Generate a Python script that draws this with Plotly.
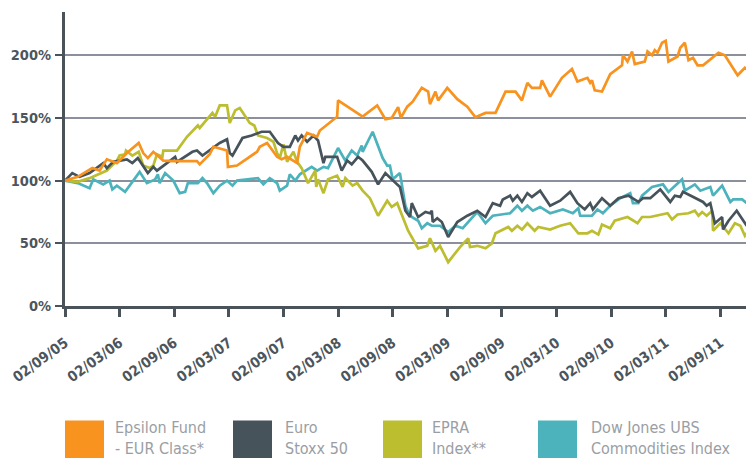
import plotly.graph_objects as go

# x = months since 02/09/2005, y = indexed performance (%)
tick_months = [0, 6, 12, 18, 24, 30, 36, 42, 48, 54, 60, 66, 72]
tick_labels = ["02/09/05", "02/03/06", "02/09/06", "02/03/07", "02/09/07", "02/03/08",
               "02/09/08", "02/03/09", "02/09/09", "02/03/10", "02/09/10", "02/03/11", "02/09/11"]
y_ticks = [0, 50, 100, 150, 200]
y_labels = ["0%", "50%", "100%", "150%", "200%"]

epsilon_t = [0, 1.4, 3.0, 3.8, 4.6, 5.7, 6.8, 8.1, 8.6, 9.1, 9.7, 10.8, 11.9, 14.5, 14.8, 15.9,
             16.3, 17.8, 17.9, 18.9, 21.1, 21.4, 22.2, 23.3, 23.8, 24.4, 25.5, 25.8, 26.6, 27.7,
             28.0, 29.9, 30.0, 32.7, 34.3, 35.2, 35.9, 36.6, 36.9, 37.6, 38.2, 39.2, 39.9, 40.1,
             40.7, 41.0, 42.0, 43.1, 44.2, 45.1, 46.2, 47.3, 48.4, 49.5, 50.2, 50.8, 51.3, 52.2,
             52.4, 53.3, 54.6, 55.7, 56.3, 57.4, 57.7, 57.9, 58.2, 59.0, 59.9, 61.2, 61.3, 61.8,
             62.3, 62.6, 63.7, 64.0, 64.5, 64.8, 65.1, 65.6, 66.0, 66.3, 67.3, 67.6, 68.1, 68.5,
             69.0, 69.5, 70.1, 71.8, 72.5, 73.9, 74.7, 75.3, 75.7]
epsilon_v = [100, 103, 110, 108, 117, 114, 122, 130, 122, 118, 123, 116, 115.5, 115.5, 113, 121,
             127, 124, 111, 112, 123, 127, 130, 119, 117, 119, 114, 127, 138, 135,
             140, 151, 164, 151, 160, 149, 150, 158.6, 150, 159, 163, 174, 171, 161,
             171, 164, 174, 165, 159, 150.5, 154, 154, 171, 171, 164, 178, 174, 174,
             180, 167, 182, 189, 179, 182, 178, 180, 172, 171, 185, 192, 200, 195,
             203, 193, 195, 203, 200, 204, 202, 210, 211.5, 195, 199, 206, 210, 196,
             198, 192, 192, 202, 200, 184, 190, 187, 196]

stoxx_t = [0, 0.8, 1.6, 2.7, 4.2, 4.6, 5.3, 6.8, 7.4, 8.0, 9.1, 9.7, 10.1, 12.1, 12.3, 14.0,
           14.5, 15.1, 17.0, 17.8, 18.1, 18.4, 19.5, 20.5, 21.6, 22.5, 23.4, 24.0, 24.7, 25.3,
           25.6, 26.0, 26.6, 27.3, 27.8, 28.4, 28.6, 29.1, 29.9, 30.4, 31.0, 31.5, 32.2, 32.7,
           33.7, 34.4, 35.2, 35.9, 36.8, 37.4, 37.9, 38.1, 38.8, 39.6, 40.1, 40.3, 40.4, 40.9,
           41.4, 42.1, 43.1, 44.2, 45.3, 46.2, 47.0, 47.8, 48.1, 48.9, 49.2, 49.7, 50.2, 50.8,
           51.3, 52.2, 53.3, 54.4, 55.5, 56.3, 57.1, 57.7, 58.0, 59.0, 59.9, 60.8, 61.9, 63.0,
           63.5, 64.3, 65.4, 66.5, 67.0, 67.6, 67.9, 70.1, 70.5, 70.9, 71.4, 72.2, 72.3, 72.9,
           73.8, 74.9, 75.3, 75.7]
stoxx_v = [100, 106, 103, 106, 114, 110, 115, 117, 114, 118, 106, 111, 108, 119, 115, 123,
           124, 120, 130, 133, 122, 120, 134, 136, 139, 139, 130, 127, 127, 136,
           132, 136, 131, 136, 132, 114, 119, 119, 119, 108, 116, 113, 119, 116,
           107, 97, 106, 101, 95, 76, 71, 82, 71, 75, 74, 76, 67, 70,
           67, 55, 67, 72, 76, 71, 82, 80, 85, 88, 84, 88, 83, 90,
           87, 92, 80, 84, 91, 82, 77, 82, 77, 86, 80, 86, 88, 83,
           86, 86, 93, 83, 88, 87, 91, 83, 80, 82, 66, 71, 61, 68,
           76, 64, 70, 66]

epra_t = [0, 1.4, 2.7, 4.6, 5.7, 6.0, 6.6, 6.7, 7.4, 8.1, 8.6, 9.3, 9.7, 10.1, 10.7, 10.8,
          12.3, 13.4, 14.6, 14.8, 16.2, 16.5, 17.0, 17.8, 18.1, 18.7, 19.2, 20.3, 20.8, 21.2,
          22.2, 22.9, 23.3, 23.6, 24.0, 24.4, 25.1, 25.5, 26.0, 26.7, 27.5, 27.6, 27.8, 28.4,
          28.9, 29.9, 30.5, 30.8, 31.6, 32.1, 32.7, 33.5, 34.4, 35.4, 35.9, 36.5, 37.7, 38.8,
          39.8, 40.1, 40.7, 41.2, 42.1, 43.4, 44.3, 44.5, 45.3, 46.2, 46.9, 47.3, 48.7, 49.1,
          49.7, 50.2, 50.8, 51.6, 52.0, 53.3, 54.4, 55.5, 56.4, 57.4, 57.9, 58.6, 59.0, 59.9,
          60.4, 61.8, 62.9, 63.4, 64.3, 66.2, 66.7, 67.3, 68.5, 69.2, 69.6, 70.0, 70.5, 71.1,
          71.2, 72.0, 72.9, 73.6, 74.2, 74.7, 75.3, 75.7]
epra_v = [100, 99, 102, 108, 116, 120, 121, 124, 120, 123, 112, 110, 112, 121, 119, 124,
          124, 135, 144, 142, 154, 151, 160, 160, 146, 156, 158, 146, 144, 136,
          134, 131, 122, 118, 129, 115, 123, 115, 110, 98, 108, 95, 101, 90,
          101, 104, 95, 102, 96, 98, 92, 86, 72, 84, 79, 82, 60, 46,
          48, 54, 44, 48, 35, 47, 54, 47, 48, 46, 50, 58, 63, 60,
          64, 61, 66, 60, 63, 61, 64, 66, 58, 58, 60, 57, 65, 62,
          68, 71, 66, 71, 71, 74, 69, 73, 74, 76, 72, 75, 72, 76,
          60, 66, 58, 66, 64, 56, 62, 56]

djubs_t = [0, 1.4, 2.7, 3.1, 4.2, 4.9, 5.2, 5.7, 6.6, 8.2, 9.0, 9.9, 10.2, 10.4, 11.0, 11.9,
           12.6, 13.2, 13.5, 14.6, 15.1, 15.6, 16.3, 17.0, 17.8, 18.4, 18.9, 21.2, 21.8, 22.5,
           23.3, 23.6, 24.4, 24.7, 25.3, 25.8, 27.1, 27.7, 28.4, 28.9, 30.0, 30.8, 31.5, 32.1,
           32.6, 32.7, 33.8, 34.9, 35.4, 35.7, 36.0, 36.8, 37.4, 37.7, 38.1, 38.8, 39.2, 39.8,
           40.3, 41.2, 42.1, 42.9, 43.7, 44.2, 45.3, 46.2, 47.0, 48.9, 49.7, 50.2, 50.8, 51.4,
           52.2, 53.3, 54.7, 55.8, 56.4, 56.6, 57.9, 58.5, 59.1, 59.9, 61.0, 62.1, 62.4, 63.0,
           63.4, 64.5, 65.7, 66.3, 67.8, 68.1, 69.2, 69.8, 70.9, 71.2, 72.2, 73.1, 73.4, 74.4,
           74.9, 75.7]
djubs_v = [100, 98, 94, 101, 97, 100, 93, 96, 91, 107, 98, 101, 105, 98, 106, 100,
           90, 91, 98, 98, 102, 98, 90, 96, 100, 96, 100, 102, 97, 102,
           98, 92, 96, 105, 100, 105, 111, 108, 111, 110, 126, 116, 124, 120,
           128, 123, 139, 118, 112, 112, 101, 106, 80, 75, 71, 68, 62, 66,
           64, 64, 59, 64, 62, 66, 75, 66, 72, 74, 80, 76, 80, 76,
           79, 74, 77, 74, 78, 72, 72, 77, 74, 80, 86, 90, 82, 82,
           88, 95, 97, 91, 101, 92, 97, 92, 95, 88, 96, 83, 85, 85,
           82, 79]

series_names = ["Epsilon Fund<br>- EUR Class*", "Euro<br>Stoxx 50", "EPRA<br>Index**",
                "Dow Jones UBS<br>Commodities Index"]
colors = ["#f7931e", "#47535b", "#bcbd2f", "#4cb3bd"]

# page has an 8px body margin: figure sized so it fills the 754x458 window
OFF = 8
W, H = 754 - OFF, 458 - OFF
ML, MR, MT = 65 - OFF, 0, 12 - OFF
PLOT_BOTTOM = 305.7 - OFF
MB = H - PLOT_BOTTOM
pw, ph = W - ML - MR, H - MT - MB

fig = go.Figure()
data = [(epsilon_t, epsilon_v), (stoxx_t, stoxx_v), (epra_t, epra_v), (djubs_t, djubs_v)]
for idx in [3, 2, 1, 0]:
    t, v = data[idx]
    fig.add_trace(go.Scatter(x=t, y=v, mode="lines", name=series_names[idx],
                             line=dict(color=colors[idx], width=2.7), showlegend=False))

axis_col = "#4a525a"
tick_family = "DejaVu Sans Condensed, Liberation Sans Narrow, DejaVu Sans"
fig.update_layout(
    width=W, height=H, margin=dict(l=ML, r=MR, t=MT, b=MB, autoexpand=False),
    paper_bgcolor="white", plot_bgcolor="white",
    xaxis=dict(range=[0, 75.7], tickvals=tick_months, ticktext=tick_labels,
               tickangle=-36, showgrid=False, zeroline=False, automargin=False,
               ticklabeloverflow="allow", ticklabelstandoff=12,
               showline=True, linecolor=axis_col, linewidth=3,
               ticks="outside", ticklen=8, tickwidth=3, tickcolor=axis_col,
               tickfont=dict(family=tick_family, size=14.5, color="#4d555c", weight="bold")),
    yaxis=dict(range=[0, 234.5], tickvals=y_ticks, ticktext=y_labels,
               showgrid=True, gridcolor="#8c909c", gridwidth=2, zeroline=False,
               automargin=False, ticklabeloverflow="allow",
               showline=True, linecolor=axis_col, linewidth=3,
               ticks="outside", ticklen=7, tickwidth=2, tickcolor=axis_col,
               ticklabelstandoff=1,
               tickfont=dict(family=tick_family, size=14.5, color="#4d555c", weight="bold")),
)

# Legend drawn as boxes + text below the plot (positions given in window pixels)
def px_to_paper_x(px):
    return (px - OFF - ML) / pw

def px_to_paper_y(py):
    return (PLOT_BOTTOM - (py - OFF)) / ph

box_left = [65, 233, 383, 538]
text_left = [113, 283, 430, 589]
for i in range(4):
    fig.add_shape(type="rect", xref="paper", yref="paper",
                  x0=px_to_paper_x(box_left[i]), x1=px_to_paper_x(box_left[i] + 39),
                  y0=px_to_paper_y(470), y1=px_to_paper_y(420),
                  fillcolor=colors[i], line=dict(width=0), layer="above")
    fig.add_annotation(xref="paper", yref="paper",
                       x=px_to_paper_x(text_left[i]), y=px_to_paper_y(438),
                       xanchor="left", yanchor="middle", align="left", showarrow=False,
                       text=series_names[i],
                       font=dict(family="Liberation Sans Narrow, DejaVu Sans Condensed, Roboto",
                                 size=16, color="#9a9ea4"))

fig.write_html("out.html")
